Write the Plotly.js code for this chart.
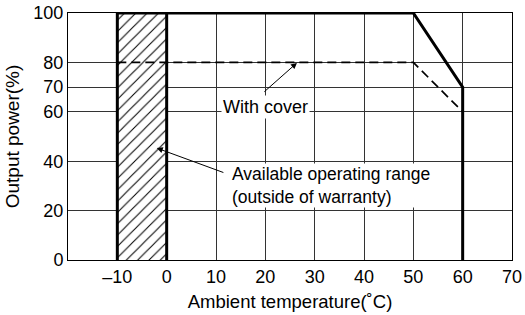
<!DOCTYPE html>
<html><head><meta charset="utf-8">
<script src="https://cdn.plot.ly/plotly-3.0.1.min.js"></script>
<style>html,body{margin:0;padding:0;background:#fff}#c{width:525px;height:315px}</style>
</head><body><div id="c"></div>
<script>
// Derating curve (no cover)
const tempMain = [-10, -10, 50, 60, 60];
const powerMain = [0, 100, 100, 70, 0];
// Boundary at 0 °C
const tempZero = [0, 0];
const powerZero = [0, 100];
// With cover
const tempCover = [-10, 50, 60];
const powerCover = [80, 80, 60];
// Hatched region (outside of warranty)
const hatchX = [-10, 0, 0, -10, -10];
const hatchY = [0, 0, 100, 100, 0];
// Ticks
const xTickVals = [-10, 0, 10, 20, 30, 40, 50, 60, 70];
const xTickText = ['–10', '0', '10', '20', '30', '40', '50', '60', '70'];
const yTickVals = [0, 20, 40, 60, 70, 80, 100];
const yTickText = ['0', '20', '40', '60', '70', '80', '100'];

const font = 'Liberation Sans, Arial, sans-serif';
const traces = [
  {x: hatchX, y: hatchY, type: 'scatter', mode: 'lines', fill: 'toself',
   fillcolor: 'white', line: {width: 0},
   fillpattern: {shape: '/', fgcolor: 'black', bgcolor: 'white', size: 8, solidity: 0.13},
   hoverinfo: 'skip'},
  {x: tempCover, y: powerCover, type: 'scatter', mode: 'lines',
   line: {color: 'black', width: 1.7, dash: '9px,5px'}},
  {x: tempZero, y: powerZero, type: 'scatter', mode: 'lines',
   line: {color: 'black', width: 3}},
  {x: tempMain, y: powerMain, type: 'scatter', mode: 'lines',
   line: {color: 'black', width: 3}}
];
const layout = {
  width: 525, height: 315,
  margin: {l: 68, r: 13, t: 13, b: 55},
  paper_bgcolor: 'white', plot_bgcolor: 'white',
  showlegend: false,
  font: {family: font, size: 18, color: 'black'},
  xaxis: {range: [-20, 70], tickvals: xTickVals, ticktext: xTickText,
    showgrid: true, gridcolor: '#333', gridwidth: 1, zeroline: false,
    showline: true, linecolor: 'black', linewidth: 1, mirror: true,
    ticks: '', ticklen: 0, tickfont: {size: 18},
    title: {text: 'Ambient temperature(˚C)', font: {size: 18.5}, standoff: 9}},
  yaxis: {range: [0, 100], tickvals: yTickVals, ticktext: yTickText,
    showgrid: true, gridcolor: '#333', gridwidth: 1, zeroline: false,
    showline: true, linecolor: 'black', linewidth: 1, mirror: true,
    ticks: '', ticklen: 0, tickfont: {size: 18},
    title: {text: 'Output power(%)', font: {size: 19}, standoff: 8}},
  annotations: [
    {x: 20.1, y: 61.9, xref: 'x', yref: 'y', text: 'With cover', showarrow: false,
     bgcolor: 'white', font: {size: 18}, borderpad: 1},
    {x: 26.4, y: 79.8, ax: 19.5, ay: 67.6, axref: 'x', ayref: 'y', xref: 'x', yref: 'y',
     text: '', showarrow: true, arrowhead: 2, arrowsize: 1.2, arrowwidth: 1, arrowcolor: 'black'},
    {x: 13.0, y: 30.0, xref: 'x', yref: 'y', xanchor: 'left',
     text: 'Available operating range<br>(outside of warranty)', align: 'left',
     showarrow: false, bgcolor: 'white', font: {size: 17.5}, borderpad: 0},
    {x: -2, y: 45.3, ax: 11.8, ay: 35.2, axref: 'x', ayref: 'y', xref: 'x', yref: 'y',
     text: '', showarrow: true, arrowhead: 2, arrowsize: 1.2, arrowwidth: 1, arrowcolor: 'black'}
  ]
};
Plotly.newPlot('c', traces, layout, {staticPlot: true, displayModeBar: false});
</script></body></html>
